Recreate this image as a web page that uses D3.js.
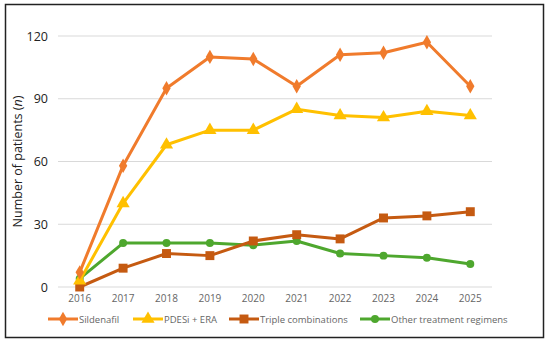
<!DOCTYPE html>
<html>
<head>
<meta charset="UTF-8">
<script src="https://d3js.org/d3.v7.min.js"></script>
<style>
  body { margin: 0; background: #fff; }
  svg { font-family: "Open Sans", "Liberation Sans", sans-serif; }
</style>
</head>
<body>
<div id="chart"></div>
<script>
    // data
    var years = ["2016", "2017", "2018", "2019", "2020", "2021", "2022", "2023", "2024", "2025"];
    var sildenafil = [7, 58, 95, 110, 109, 96, 111, 112, 117, 96];
    var pdesiEra = [3, 40, 68, 75, 75, 85, 82, 81, 84, 82];
    var tripleComb = [0, 9, 16, 15, 22, 25, 23, 33, 34, 36];
    var otherRegimens = [4, 21, 21, 21, 20, 22, 16, 15, 14, 11];
    var yTicks = [0, 30, 60, 90, 120];

    var series = [
        { name: "Sildenafil", values: sildenafil, color: "#F07B2C", symbol: d3.symbolDiamond, size: 60, legX: 48 },
        { name: "PDESi + ERA", values: pdesiEra, color: "#FFC000", symbol: d3.symbolTriangle, size: 75, legX: 133 },
        { name: "Triple combinations", values: tripleComb, color: "#C55A11", symbol: d3.symbolSquare, size: 80, legX: 229 },
        { name: "Other treatment regimens", values: otherRegimens, color: "#4EA72E", symbol: d3.symbolCircle, size: 50, legX: 360 }
    ];

    var width = 550, height = 344;
    var margin = { top: 36, right: 58, bottom: 57, left: 58 };

    var svg = d3.select("#chart").append("svg")
        .attr("width", width)
        .attr("height", height);

    // outer frame
    svg.append("rect")
        .attr("x", 5.5).attr("y", 4.5)
        .attr("width", 538).attr("height", 333)
        .attr("fill", "none")
        .attr("stroke", "#222")
        .attr("stroke-width", 1.5);

    var x = d3.scaleBand()
        .domain(years)
        .range([margin.left, width - margin.right]);

    var y = d3.scaleLinear()
        .domain([0, 120])
        .range([height - margin.bottom, margin.top]);

    // gridlines
    svg.append("g")
        .selectAll("line")
        .data(yTicks)
        .enter().append("line")
        .attr("x1", margin.left)
        .attr("x2", width - margin.right)
        .attr("y1", function(d) { return y(d); })
        .attr("y2", function(d) { return y(d); })
        .attr("stroke", "#d9d9d9")
        .attr("stroke-width", 1);

    // y axis labels
    var yAxis = d3.axisLeft(y).tickValues(yTicks).tickSize(0).tickPadding(10);
    svg.append("g")
        .attr("transform", "translate(" + margin.left + ",0)")
        .call(yAxis)
        .call(function(g) { g.select(".domain").remove(); })
        .selectAll("text")
        .attr("font-size", 12.5)
        .attr("fill", "#222")
        .attr("font-family", "Open Sans, sans-serif");

    // x axis labels
    var xAxis = d3.axisBottom(x).tickSize(0).tickPadding(8);
    svg.append("g")
        .attr("transform", "translate(0," + (height - margin.bottom) + ")")
        .call(xAxis)
        .call(function(g) { g.select(".domain").remove(); })
        .selectAll("text")
        .attr("font-size", 10)
        .attr("fill", "#666")
        .attr("font-family", "Open Sans, sans-serif");

    // y title
    var yt = svg.append("text")
        .attr("transform", "translate(22," + ((margin.top + height - margin.bottom) / 2) + ") rotate(-90)")
        .attr("text-anchor", "middle")
        .attr("font-size", 12.5)
        .attr("fill", "#222");
    yt.append("tspan").text("Number of patients (");
    yt.append("tspan").attr("font-style", "italic").text("n");
    yt.append("tspan").text(")");

    var line = d3.line()
        .x(function(d, i) { return x(years[i]) + x.bandwidth() / 2; })
        .y(function(d) { return y(d); });

    // lines (draw in reverse so Sildenafil sits on top)
    series.slice().reverse().forEach(function(s) {
        var g = svg.append("g");
        g.append("path")
            .datum(s.values)
            .attr("d", line)
            .attr("fill", "none")
            .attr("stroke", s.color)
            .attr("stroke-width", 3)
            .attr("stroke-linejoin", "round");
        g.selectAll("path.mark")
            .data(s.values)
            .enter().append("path")
            .attr("class", "mark")
            .attr("d", d3.symbol().type(s.symbol).size(s.size))
            .attr("transform", function(d, i) {
                return "translate(" + (x(years[i]) + x.bandwidth() / 2) + "," + y(d) + ")";
            })
            .attr("fill", s.color);
    });

    // legend
    var legY = 319;
    var leg = svg.append("g");
    series.forEach(function(s) {
        var lg = leg.append("g");
        lg.append("line")
            .attr("x1", s.legX).attr("x2", s.legX + 30)
            .attr("y1", legY).attr("y2", legY)
            .attr("stroke", s.color).attr("stroke-width", 3);
        lg.append("path")
            .attr("d", d3.symbol().type(s.symbol).size(s.size))
            .attr("transform", "translate(" + (s.legX + 15) + "," + legY + ")")
            .attr("fill", s.color);
        lg.append("text")
            .attr("x", s.legX + 31)
            .attr("y", legY + 3.5)
            .attr("font-size", 9.5)
            .attr("fill", "#666")
            .text(s.name);
    });
</script>
</body>
</html>
